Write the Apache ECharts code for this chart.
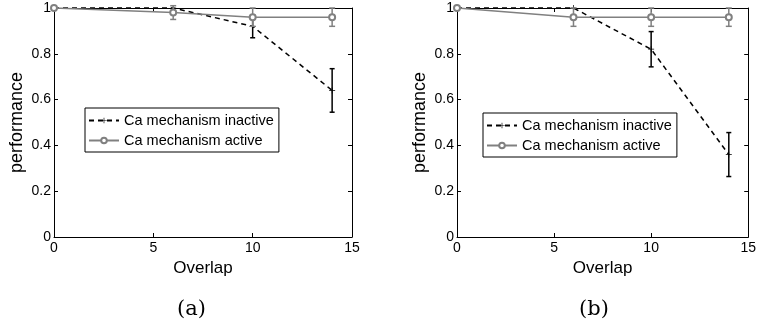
<!DOCTYPE html>
<html>
<head>
<meta charset="utf-8">
<script src="https://cdn.jsdelivr.net/npm/echarts@6/dist/echarts.min.js"></script>
<style>
html,body{margin:0;padding:0;background:#fff;}
#c{width:759px;height:325px;}
</style>
</head>
<body>
<div id="c"></div>
<script>
// ---- data ----
const overlap = [0, 6, 10, 14];
const xTicks = ['0', '5', '10', '15'];
const yTicks = ['0', '0.2', '0.4', '0.6', '0.8', '1'];
const seriesNames = ['Ca mechanism inactive', 'Ca mechanism active'];
const inactiveA = [1.0, 1.0, 0.92, 0.64];
const inactiveErrA = [0, 0, 0.05, 0.095];
const activeA = [1.0, 0.98, 0.96, 0.96];
const activeErrA = [0, 0.03, 0.04, 0.04];
const inactiveB = [1.0, 1.0, 0.82, 0.36];
const inactiveErrB = [0, 0, 0.077, 0.096];
const activeB = [1.0, 0.96, 0.96, 0.96];
const activeErrB = [0, 0.04, 0.04, 0.04];
const captions = ['(a)', '(b)'];

const FONT = 'Liberation Sans, Arial, Helvetica, sans-serif';
const GRAY = '#808080';
const PLUS = 'path://M4.4,0H5.6V4.4H10V5.6H5.6V10H4.4V5.6H0V4.4H4.4Z';

function pts(xs, ys) { return xs.map((x, i) => [x, ys[i]]); }
function errs(xs, ys, es) {
  const out = [];
  xs.forEach((x, i) => { if (es[i] > 0) out.push([x, ys[i] - es[i], ys[i] + es[i]]); });
  return out;
}
function errRender(color, lw, w) {
  return function (params, api) {
    const x = api.value(0), lo = api.value(1), hi = api.value(2);
    const p1 = api.coord([x, hi]), p2 = api.coord([x, lo]);
    const st = { stroke: color, lineWidth: lw };
    return { type: 'group', children: [
      { type: 'line', shape: { x1: p1[0], y1: p1[1], x2: p2[0], y2: p2[1] }, style: st },
      { type: 'line', shape: { x1: p1[0] - w, y1: p1[1], x2: p1[0] + w, y2: p1[1] }, style: st },
      { type: 'line', shape: { x1: p2[0] - w, y1: p2[1], x2: p2[0] + w, y2: p2[1] }, style: st }
    ]};
  };
}

const grids = [
  { left: 54, top: 8, width: 298, height: 229 },
  { left: 457, top: 8, width: 298, height: 229 }
];
const xAxis = [], yAxis = [], series = [], legends = [], graphics = [];
const legendPos = [{ left: 85, top: 108 }, { left: 483, top: 113 }];
const sets = [
  [inactiveA, inactiveErrA, activeA, activeErrA],
  [inactiveB, inactiveErrB, activeB, activeErrB]
];
const captionX = [192, 594];

grids.forEach((g, gi) => {
  const common = {
    type: 'value', gridIndex: gi, min: 0,
    axisLine: { show: true, onZero: false, lineStyle: { color: '#000', width: 1 } },
    axisTick: { show: true, inside: true, length: 4, lineStyle: { color: '#000' } },
    splitLine: { show: false }
  };
  xAxis.push(Object.assign({}, common, {
    position: 'bottom', max: 15, interval: 5,
    name: 'Overlap', nameLocation: 'middle', nameGap: 18,
    nameTextStyle: { fontSize: 17, color: '#000', fontFamily: FONT, verticalAlign: 'top' },
    axisLabel: { margin: 4, fontSize: 14, color: '#000', fontFamily: FONT,
      formatter: v => xTicks[Math.round(v / 5)] }
  }));
  xAxis.push(Object.assign({}, common, {
    position: 'top', max: 15, interval: 5, axisLabel: { show: false }
  }));
  yAxis.push(Object.assign({}, common, {
    position: 'left', max: 1, interval: 0.2,
    name: 'performance', nameLocation: 'middle', nameGap: 28,
    nameTextStyle: { fontSize: 18, color: '#000', fontFamily: FONT },
    axisLabel: { margin: 3, fontSize: 14, color: '#000', fontFamily: FONT,
      formatter: v => yTicks[Math.round(v / 0.2)] }
  }));
  yAxis.push(Object.assign({}, common, {
    position: 'right', max: 1, interval: 0.2, axisLabel: { show: false }
  }));

  const [inA, inE, acA, acE] = sets[gi];
  const xi = gi * 2, yi = gi * 2;
  series.push({
    type: 'custom', name: 'errInactive' + gi, xAxisIndex: xi, yAxisIndex: yi,
    renderItem: errRender('#000', 1.5, 2.5), data: errs(overlap, inA, inE),
    encode: { x: 0, y: [1, 2] }, clip: false, z: 2, silent: true
  });
  series.push({
    type: 'line', name: seriesNames[0], xAxisIndex: xi, yAxisIndex: yi,
    data: pts(overlap, inA), symbol: PLUS, symbolSize: 6, clip: false, z: 3,
    lineStyle: { color: '#000', width: 1.5, type: [5, 4] },
    itemStyle: { color: '#000' }
  });
  series.push({
    type: 'custom', name: 'errActive' + gi, xAxisIndex: xi, yAxisIndex: yi,
    renderItem: errRender(GRAY, 1.5, 3), data: errs(overlap, acA, acE),
    encode: { x: 0, y: [1, 2] }, clip: false, z: 4, silent: true
  });
  series.push({
    type: 'line', name: seriesNames[1], xAxisIndex: xi, yAxisIndex: yi,
    data: pts(overlap, acA), symbol: 'emptyCircle', symbolSize: 6, clip: false, z: 5,
    lineStyle: { color: GRAY, width: 1.5 },
    itemStyle: { color: GRAY, borderWidth: 1.5 }
  });

  legends.push({
    data: seriesNames, orient: 'vertical',
    left: legendPos[gi].left, top: legendPos[gi].top,
    backgroundColor: '#fff', borderColor: '#000', borderWidth: 1, borderRadius: 0,
    padding: [5, 5, 4, 3], itemWidth: 30, itemHeight: 7, itemGap: 5,
    selectedMode: false,
    textStyle: { fontSize: 14.5, color: '#000', fontFamily: FONT }
  });

  graphics.push({
    type: 'text', left: captionX[gi] - 15, top: 299,
    style: { text: captions[gi], fontSize: 21, fill: '#000', fontFamily: 'DejaVu Serif, serif' }
  });
});

const chart = echarts.init(document.getElementById('c'), null, { renderer: 'canvas' });
chart.setOption({
  backgroundColor: '#fff',
  animation: false,
  grid: grids,
  xAxis: xAxis,
  yAxis: yAxis,
  legend: legends,
  series: series,
  graphic: graphics
});
</script>
</body>
</html>
